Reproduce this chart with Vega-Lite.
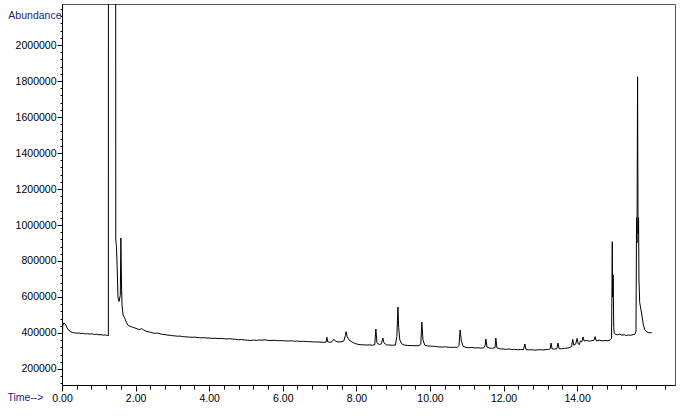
{
  "$schema": "https://vega.github.io/schema/vega-lite/v6.json",
  "width": 613,
  "height": 381,
  "autosize": {"type": "none"},
  "padding": {"left": 62, "top": 4, "right": 5, "bottom": 32},
  "background": "white",
  "config": {
    "view": {"stroke": "#555", "strokeWidth": 1},
    "axis": {
      "labelFont": "Liberation Sans",
      "labelFontSize": 10.5,
      "labelColor": "#000",
      "tickColor": "#000",
      "domainColor": "#000",
      "grid": false,
      "titleFont": "Liberation Sans",
      "titleFontSize": 10.5,
      "titleFontWeight": "normal",
      "titleColor": "#1c1c78"
    }
  },
  "data": {"values": [
    {"t":0,"a":262000},{"t":0.02,"a":440000},{"t":0.05,"a":456000},{"t":0.09,"a":449000},{"t":0.13,"a":432000},{"t":0.17,"a":418000},{"t":0.22,"a":409000},{"t":0.28,"a":403000},{"t":0.34,"a":401000},{"t":0.4,"a":399000},{"t":0.46,"a":400000},{"t":0.52,"a":397000},{"t":0.58,"a":398000},{"t":0.64,"a":395000},{"t":0.7,"a":396000},{"t":0.76,"a":394000},{"t":0.82,"a":395000},{"t":0.88,"a":392000},{"t":0.94,"a":393000},{"t":1.0,"a":390000},{"t":1.06,"a":391000},{"t":1.12,"a":388000},{"t":1.18,"a":389000},{"t":1.24,"a":386000},{"t":1.26,"a":385000},
    {"t":1.262,"a":3000000},{"t":1.458,"a":3000000},{"t":1.462,"a":917000},{"t":1.48,"a":880000},{"t":1.5,"a":760000},{"t":1.52,"a":600000},{"t":1.55,"a":575000},{"t":1.585,"a":610000},{"t":1.6,"a":928000},{"t":1.615,"a":700000},{"t":1.63,"a":555000},{"t":1.66,"a":500000},{"t":1.71,"a":480000},{"t":1.75,"a":458000},{"t":1.79,"a":444000},{"t":1.85,"a":437000},{"t":1.92,"a":432000},{"t":1.98,"a":428000},
    {"t":2.04,"a":423000},{"t":2.1,"a":419000},{"t":2.16,"a":424000},{"t":2.21,"a":418000},{"t":2.27,"a":411000},{"t":2.34,"a":407000},{"t":2.4,"a":404000},{"t":2.47,"a":400000},{"t":2.54,"a":398000},{"t":2.6,"a":400000},{"t":2.67,"a":395000},{"t":2.74,"a":392000},{"t":2.8,"a":391000},{"t":2.87,"a":388000},{"t":2.94,"a":387000},{"t":3.0,"a":385000},{"t":3.07,"a":384000},{"t":3.14,"a":382000},{"t":3.2,"a":383000},{"t":3.27,"a":380000},{"t":3.34,"a":379000},{"t":3.4,"a":378000},{"t":3.47,"a":377000},{"t":3.54,"a":376000},{"t":3.6,"a":377000},{"t":3.67,"a":375000},{"t":3.74,"a":374000},{"t":3.8,"a":373000},{"t":3.87,"a":374000},{"t":3.94,"a":372000},
    {"t":4.0,"a":372000},{"t":4.08,"a":370000},{"t":4.16,"a":371000},{"t":4.24,"a":369000},{"t":4.32,"a":370000},{"t":4.4,"a":368000},{"t":4.48,"a":367000},{"t":4.56,"a":368000},{"t":4.64,"a":366000},{"t":4.72,"a":365000},{"t":4.8,"a":362000},{"t":4.88,"a":364000},{"t":4.96,"a":361000},{"t":5.04,"a":360000},{"t":5.12,"a":358000},{"t":5.2,"a":361000},{"t":5.28,"a":359000},{"t":5.36,"a":361000},{"t":5.44,"a":360000},{"t":5.52,"a":362000},{"t":5.6,"a":359000},{"t":5.68,"a":358000},{"t":5.76,"a":360000},{"t":5.84,"a":357000},{"t":5.92,"a":358000},
    {"t":6.0,"a":357000},{"t":6.08,"a":356000},{"t":6.16,"a":355000},{"t":6.24,"a":357000},{"t":6.32,"a":354000},{"t":6.4,"a":355000},{"t":6.48,"a":353000},{"t":6.56,"a":354000},{"t":6.64,"a":352000},{"t":6.72,"a":352000},{"t":6.8,"a":351000},{"t":6.88,"a":350000},{"t":6.96,"a":350000},{"t":7.04,"a":349000},{"t":7.12,"a":348000},{"t":7.18,"a":350000},{"t":7.2,"a":376000},{"t":7.22,"a":352000},{"t":7.28,"a":348000},{"t":7.34,"a":352000},{"t":7.39,"a":365000},{"t":7.43,"a":355000},{"t":7.5,"a":350000},{"t":7.58,"a":351000},{"t":7.66,"a":356000},{"t":7.7,"a":385000},{"t":7.72,"a":407000},{"t":7.75,"a":380000},{"t":7.8,"a":362000},{"t":7.88,"a":350000},{"t":7.96,"a":342000},
    {"t":8.04,"a":337000},{"t":8.12,"a":335000},{"t":8.2,"a":334000},{"t":8.28,"a":333000},{"t":8.36,"a":334000},{"t":8.44,"a":332000},{"t":8.5,"a":335000},{"t":8.53,"a":422000},{"t":8.56,"a":345000},{"t":8.62,"a":336000},{"t":8.68,"a":340000},{"t":8.72,"a":372000},{"t":8.75,"a":345000},{"t":8.82,"a":334000},{"t":8.9,"a":333000},{"t":8.98,"a":332000},{"t":9.06,"a":333000},{"t":9.1,"a":380000},{"t":9.13,"a":544000},{"t":9.15,"a":430000},{"t":9.18,"a":362000},{"t":9.23,"a":340000},{"t":9.3,"a":333000},{"t":9.38,"a":331000},{"t":9.46,"a":330000},{"t":9.54,"a":330000},{"t":9.62,"a":329000},{"t":9.7,"a":330000},{"t":9.75,"a":336000},{"t":9.78,"a":461000},{"t":9.81,"a":362000},{"t":9.86,"a":332000},{"t":9.94,"a":328000},
    {"t":10.02,"a":327000},{"t":10.1,"a":326000},{"t":10.18,"a":324000},{"t":10.26,"a":323000},{"t":10.34,"a":322000},{"t":10.42,"a":323000},{"t":10.5,"a":321000},{"t":10.58,"a":320000},{"t":10.66,"a":321000},{"t":10.74,"a":320000},{"t":10.79,"a":330000},{"t":10.82,"a":417000},{"t":10.85,"a":360000},{"t":10.9,"a":326000},{"t":10.98,"a":320000},{"t":11.06,"a":318000},{"t":11.14,"a":320000},{"t":11.22,"a":317000},{"t":11.3,"a":318000},{"t":11.38,"a":316000},{"t":11.46,"a":317000},{"t":11.5,"a":330000},{"t":11.52,"a":367000},{"t":11.55,"a":322000},{"t":11.62,"a":316000},{"t":11.7,"a":315000},{"t":11.77,"a":318000},{"t":11.79,"a":372000},{"t":11.82,"a":318000},{"t":11.9,"a":312000},{"t":11.98,"a":311000},
    {"t":12.06,"a":309000},{"t":12.14,"a":311000},{"t":12.22,"a":308000},{"t":12.3,"a":309000},{"t":12.38,"a":307000},{"t":12.46,"a":308000},{"t":12.54,"a":307000},{"t":12.58,"a":339000},{"t":12.61,"a":308000},{"t":12.68,"a":306000},{"t":12.76,"a":307000},{"t":12.84,"a":305000},{"t":12.92,"a":306000},{"t":13.0,"a":307000},{"t":13.08,"a":306000},{"t":13.16,"a":308000},{"t":13.23,"a":309000},{"t":13.27,"a":312000},{"t":13.29,"a":344000},{"t":13.32,"a":312000},{"t":13.38,"a":310000},{"t":13.45,"a":313000},{"t":13.48,"a":344000},{"t":13.51,"a":313000},{"t":13.58,"a":312000},{"t":13.66,"a":315000},{"t":13.74,"a":316000},{"t":13.8,"a":320000},{"t":13.85,"a":325000},{"t":13.88,"a":365000},{"t":13.91,"a":332000},{"t":13.96,"a":338000},
    {"t":14.0,"a":370000},{"t":14.03,"a":340000},{"t":14.06,"a":335000},{"t":14.09,"a":356000},{"t":14.13,"a":352000},{"t":14.16,"a":378000},{"t":14.19,"a":356000},{"t":14.26,"a":358000},{"t":14.33,"a":355000},{"t":14.4,"a":357000},{"t":14.46,"a":360000},{"t":14.49,"a":380000},{"t":14.52,"a":356000},{"t":14.6,"a":360000},{"t":14.68,"a":356000},{"t":14.76,"a":358000},{"t":14.84,"a":357000},{"t":14.9,"a":362000},{"t":14.935,"a":370000},{"t":14.945,"a":600000},{"t":14.955,"a":907000},{"t":14.965,"a":600000},{"t":14.98,"a":722000},{"t":14.995,"a":430000},
    {"t":15.01,"a":398000},{"t":15.05,"a":392000},{"t":15.1,"a":390000},{"t":15.16,"a":393000},{"t":15.22,"a":388000},{"t":15.28,"a":390000},{"t":15.34,"a":386000},{"t":15.4,"a":389000},{"t":15.46,"a":387000},{"t":15.52,"a":391000},{"t":15.57,"a":393000},{"t":15.6,"a":410000},{"t":15.615,"a":1040000},{"t":15.627,"a":900000},{"t":15.643,"a":1824000},{"t":15.656,"a":950000},{"t":15.67,"a":1040000},{"t":15.68,"a":700000},{"t":15.7,"a":570000},{"t":15.75,"a":511000},{"t":15.8,"a":445000},{"t":15.84,"a":417000},{"t":15.9,"a":405000},{"t":15.96,"a":401000},{"t":16.03,"a":402000}
  ]},
  "layer": [
    {
      "mark": {"type": "line", "color": "#000", "strokeWidth": 1, "clip": true},
      "encoding": {
        "x": {
          "field": "t", "type": "quantitative",
          "scale": {"domain": [0, 16.66], "nice": false, "zero": false},
          "axis": {
            "values": [0, 2, 4, 6, 8, 10, 12, 14],
            "format": ".2f",
            "tickSize": 6,
            "labelPadding": 2,
            "labelFlush": false,
            "title": "Time-->",
            "titleAnchor": "start",
            "titleAlign": "right",
            "titleBaseline": "middle",
            "titleX": -19,
            "titleY": 12
          }
        },
        "y": {
          "field": "a", "type": "quantitative",
          "scale": {"domain": [111000, 2228000], "nice": false, "zero": false},
          "axis": {
            "values": [200000, 400000, 600000, 800000, 1000000, 1200000, 1400000, 1600000, 1800000, 2000000],
            "format": "d",
            "tickSize": 5,
            "labelPadding": 1,
            "labelFlush": false,
            "title": "Abundance",
            "titleAngle": 0,
            "titleAnchor": "start",
            "titleAlign": "right",
            "titleBaseline": "middle",
            "titleX": -1,
            "titleY": 11
          }
        }
      }
    },
    {
      "mark": {"type": "point", "opacity": 0},
      "encoding": {
        "x": {
          "field": "t", "type": "quantitative",
          "scale": {"domain": [0, 16.66], "nice": false, "zero": false},
          "axis": {
            "orient": "bottom",
            "values": [0.4, 0.8, 1.2, 1.6, 2.4, 2.8, 3.2, 3.6, 4.4, 4.8, 5.2, 5.6, 6.4, 6.8, 7.2, 7.6, 8.4, 8.8, 9.2, 9.6, 10.4, 10.8, 11.2, 11.6, 12.4, 12.8, 13.2, 13.6, 14.4, 14.8, 15.2, 15.6, 16.4],
            "labels": false, "domain": false, "tickSize": 4, "title": null
          }
        },
        "y": {
          "field": "a", "type": "quantitative",
          "scale": {"domain": [111000, 2228000], "nice": false, "zero": false},
          "axis": {
            "orient": "left",
            "values": [120000, 160000, 240000, 280000, 320000, 360000, 440000, 480000, 520000, 560000, 640000, 680000, 720000, 760000, 840000, 880000, 920000, 960000, 1040000, 1080000, 1120000, 1160000, 1240000, 1280000, 1320000, 1360000, 1440000, 1480000, 1520000, 1560000, 1640000, 1680000, 1720000, 1760000, 1840000, 1880000, 1920000, 1960000, 2040000, 2080000, 2120000, 2160000, 2200000],
            "labels": false, "domain": false, "tickSize": 2, "title": null
          }
        }
      }
    }
  ],
  "resolve": {"axis": {"x": "independent", "y": "independent"}}
}
